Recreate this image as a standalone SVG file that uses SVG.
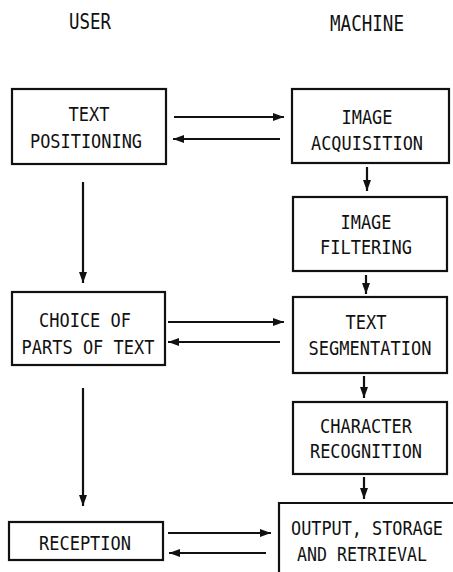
<svg xmlns="http://www.w3.org/2000/svg" width="453" height="572" viewBox="0 0 453 572">
  <style>
    .box { fill: none; stroke: #111; stroke-width: 2.2; }
    .lbl { font-family: "DejaVu Sans Mono", "Liberation Mono", monospace; font-size: 19.5px; fill: #111; text-anchor: middle; }
    .hdr { font-family: "DejaVu Sans Mono", "Liberation Mono", monospace; font-size: 21px; fill: #111; text-anchor: middle; }
    .con { fill: none; stroke: #111; stroke-width: 2.2; marker-end: url(#head); }
  </style>
  <defs>
    <marker id="head" markerWidth="12" markerHeight="9" refX="11" refY="4.5" orient="auto" markerUnits="userSpaceOnUse">
      <path d="M0,0.5 L11,4.5 L0,8.5 Z" fill="#111"/>
    </marker>
  </defs>
  <rect width="453" height="572" fill="#fff"/>

  <!-- column headings (condensed plotter lettering) -->
  <text class="hdr" x="90" y="29" textLength="42" lengthAdjust="spacingAndGlyphs">USER</text>
  <text class="hdr" x="367" y="31" textLength="74" lengthAdjust="spacingAndGlyphs">MACHINE</text>

  <!-- user side -->
  <g id="text-positioning">
    <rect class="box" x="12" y="89" width="154" height="75"/>
    <text class="lbl" x="89" y="121" textLength="41" lengthAdjust="spacingAndGlyphs">TEXT</text>
    <text class="lbl" x="86" y="148" textLength="112" lengthAdjust="spacingAndGlyphs">POSITIONING</text>
  </g>
  <g id="choice-of-parts">
    <rect class="box" x="12" y="292" width="153" height="73"/>
    <text class="lbl" x="85" y="327" textLength="92" lengthAdjust="spacingAndGlyphs">CHOICE OF</text>
    <text class="lbl" x="88" y="354" textLength="133" lengthAdjust="spacingAndGlyphs">PARTS OF TEXT</text>
  </g>
  <g id="reception">
    <rect class="box" x="9" y="522" width="154" height="38"/>
    <text class="lbl" x="85" y="550" textLength="92" lengthAdjust="spacingAndGlyphs">RECEPTION</text>
  </g>

  <!-- machine side -->
  <g id="image-acquisition">
    <rect class="box" x="292" y="89" width="157" height="74"/>
    <text class="lbl" x="367" y="124" textLength="51" lengthAdjust="spacingAndGlyphs">IMAGE</text>
    <text class="lbl" x="367" y="150" textLength="112" lengthAdjust="spacingAndGlyphs">ACQUISITION</text>
  </g>
  <g id="image-filtering">
    <rect class="box" x="293" y="197" width="154" height="74"/>
    <text class="lbl" x="366" y="229" textLength="51" lengthAdjust="spacingAndGlyphs">IMAGE</text>
    <text class="lbl" x="366" y="254" textLength="92" lengthAdjust="spacingAndGlyphs">FILTERING</text>
  </g>
  <g id="text-segmentation">
    <rect class="box" x="293" y="297" width="154" height="76"/>
    <text class="lbl" x="366" y="329" textLength="41" lengthAdjust="spacingAndGlyphs">TEXT</text>
    <text class="lbl" x="370" y="355" textLength="123" lengthAdjust="spacingAndGlyphs">SEGMENTATION</text>
  </g>
  <g id="character-recognition">
    <rect class="box" x="293" y="402" width="154" height="72"/>
    <text class="lbl" x="366" y="433" textLength="92" lengthAdjust="spacingAndGlyphs">CHARACTER</text>
    <text class="lbl" x="366" y="458" textLength="112" lengthAdjust="spacingAndGlyphs">RECOGNITION</text>
  </g>
  <g id="output-storage">
    <path class="box" d="M279,572 V503 H453"/>
    <text class="lbl" x="367" y="535" textLength="152" lengthAdjust="spacingAndGlyphs">OUTPUT, STORAGE</text>
    <text class="lbl" x="362" y="561" textLength="130" lengthAdjust="spacingAndGlyphs">AND RETRIEVAL</text>
  </g>

  <g id="connectors">
    <!-- exchanges between user and machine -->
    <line class="con" x1="174" y1="117" x2="284" y2="117"/>
    <line class="con" x1="280" y1="139" x2="173" y2="139"/>
    <line class="con" x1="168" y1="322" x2="284" y2="322"/>
    <line class="con" x1="280" y1="342" x2="168" y2="342"/>
    <line class="con" x1="168" y1="533" x2="271" y2="533"/>
    <line class="con" x1="266" y1="553" x2="169" y2="553"/>
    <!-- user flow -->
    <line class="con" x1="83" y1="182" x2="83" y2="283"/>
    <line class="con" x1="83" y1="388" x2="83" y2="506"/>
    <!-- machine pipeline -->
    <line class="con" x1="367" y1="167" x2="367" y2="191"/>
    <line class="con" x1="366" y1="275" x2="366" y2="294"/>
    <line class="con" x1="364" y1="376" x2="364" y2="398"/>
    <line class="con" x1="364" y1="477" x2="364" y2="499"/>
  </g>
</svg>
